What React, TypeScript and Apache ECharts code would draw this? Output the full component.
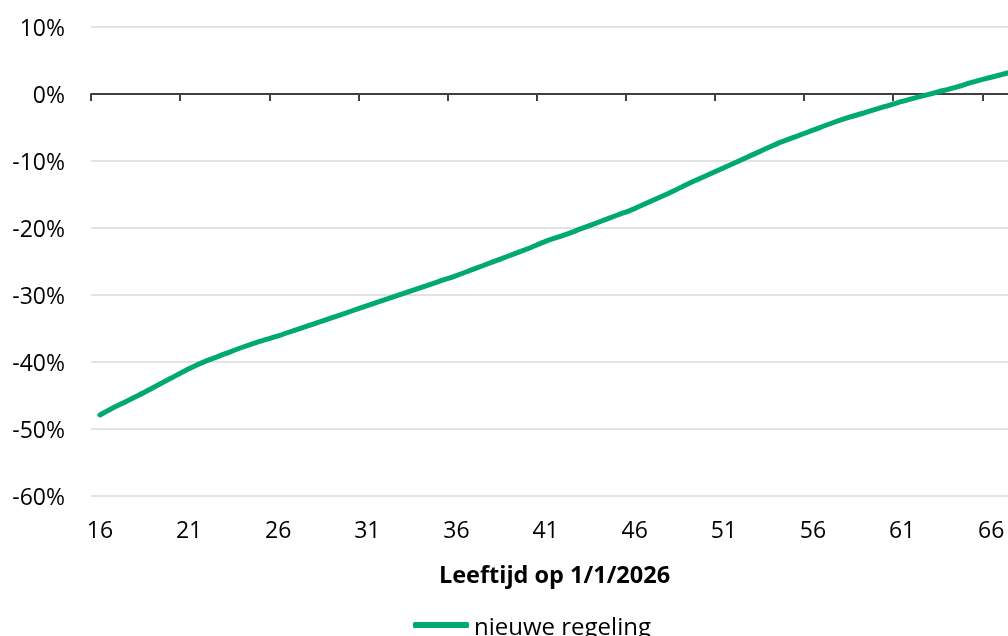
import React, { useEffect, useRef } from "react";
import * as echarts from "echarts";

const ages: string[] = [];
for (let a = 16; a <= 67; a++) ages.push(String(a));

// Verandering in % per leeftijd op 1/1/2026 (nieuwe regeling)
const nieuweRegeling: number[] = [
  -47.9, -46.5, -45.2, -43.8, -42.4, -41.0, -39.8, -38.8, -37.8, -36.9,
  -36.1, -35.2, -34.3, -33.4, -32.5, -31.6, -30.7, -29.8, -28.9, -28.0,
  -27.1, -26.1, -25.1, -24.1, -23.1, -22.0, -21.1, -20.1, -19.1, -18.1,
  -17.1, -15.9, -14.7, -13.4, -12.2, -11.0, -9.8, -8.6, -7.4, -6.4,
  -5.4, -4.4, -3.5, -2.7, -1.9, -1.1, -0.4, 0.3, 1.0, 1.8,
  2.5, 3.2,
];

const yMin = -60;
const yMax = 10;
const yStep = 10;

const seriesName = "nieuwe regeling";
const xAxisName = "Leeftijd op 1/1/2026";

const FONT = "Open Sans";

export default function App() {
  const ref = useRef<HTMLDivElement>(null);
  useEffect(() => {
    if (!ref.current) return;
    const chart = echarts.init(ref.current, undefined, { renderer: "svg" });
    chart.setOption({
      animation: false,
      textStyle: { fontFamily: FONT },
      grid: {
        left: 91,
        top: 27,
        width: 927,
        height: 469,
        containLabel: false,
        outerBoundsMode: "none",
      },
      legend: {
        left: 408,
        top: 608,
        itemWidth: 56,
        itemHeight: 6,
        icon: "roundRect",
        textStyle: { fontFamily: FONT, fontSize: 24, color: "#000" },
        data: [seriesName],
      },
      xAxis: [
        {
          type: "category",
          data: ages,
          position: "bottom",
          boundaryGap: true,
          axisLine: { show: false, onZero: false },
          axisTick: { show: false },
          splitLine: { show: false },
          axisLabel: {
            interval: 4,
            margin: 21,
            fontFamily: FONT,
            fontSize: 23,
            color: "#000",
          },
          name: xAxisName,
          nameLocation: "middle",
          nameGap: 66,
          nameTextStyle: { fontFamily: FONT, fontSize: 23.5, fontWeight: "bold", color: "#000" },
        },
        {
          type: "category",
          data: ages,
          position: "bottom",
          boundaryGap: true,
          axisLine: { show: true, onZero: true, lineStyle: { color: "#404040", width: 2 } },
          axisTick: { show: true, interval: 4, length: 7, lineStyle: { color: "#404040", width: 2 } },
          axisLabel: { show: false },
          splitLine: { show: false },
        },
      ],
      yAxis: {
        type: "value",
        min: yMin,
        max: yMax,
        interval: yStep,
        axisLine: { show: false },
        axisTick: { show: false },
        splitLine: { show: true, lineStyle: { color: "#d9d9d9", width: 1.5 } },
        axisLabel: {
          formatter: "{value}%",
          margin: 26,
          fontFamily: FONT,
          fontSize: 23,
          color: "#000",
        },
      },
      series: [
        {
          name: seriesName,
          type: "line",
          xAxisIndex: 0,
          data: nieuweRegeling,
          smooth: 0.3,
          showSymbol: false,
          symbol: "none",
          lineStyle: { color: "#00a972", width: 5, cap: "round" },
          itemStyle: { color: "#00a972" },
        },
      ],
    });
    return () => chart.dispose();
  }, []);
  return (
    <div
      ref={ref}
      style={{ position: "fixed", left: 0, top: 0, width: 1008, height: 636 }}
    />
  );
}
